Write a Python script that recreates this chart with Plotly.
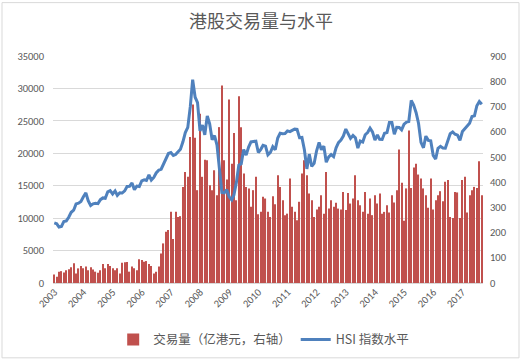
import plotly.graph_objects as go
import pandas as pd

months = pd.date_range("2003-01-01", periods=177, freq="MS")

# HSI index level (left axis)
hsi = [
    9258, 9123, 8634, 8717, 9487, 9577, 10134, 10908, 11230, 12190, 12317, 12576,
    13289, 13908, 12682, 11943, 12198, 12286, 12239, 12850, 13120, 13055, 14060, 14230,
    13721, 14196, 13517, 13909, 13868, 14201, 14880, 14904, 15429, 14386, 14937, 14876,
    15753, 15918, 15805, 16661, 15857, 16267, 16971, 17392, 17543, 18324, 18960, 19965,
    20107, 19651, 19801, 20319, 20635, 21773, 23185, 23984, 27143, 31352, 28643, 27813,
    23456, 24332, 22849, 25755, 24533, 22102, 22731, 21262, 18016, 13969, 13888, 14387,
    13278, 12811, 13576, 15521, 18171, 18379, 20573, 19724, 20955, 21753, 21822, 21873,
    20122, 20609, 21239, 21108, 19765, 20129, 21030, 20536, 22359, 23096, 23008, 23035,
    23447, 23338, 23528, 23721, 23684, 22398, 22441, 20535, 17592, 19864, 17989, 18434,
    20390, 21680, 20556, 21094, 18630, 19441, 19796, 19482, 20840, 21642, 22030, 22657,
    23730, 23020, 22300, 22737, 22392, 20803, 21883, 21731, 22860, 23206, 23882, 23306,
    22035, 22837, 22151, 22134, 23082, 23191, 24757, 24742, 22933, 23998, 23987, 23605,
    24507, 24823, 24901, 28133, 27424, 26250, 24636, 21670, 20846, 22640, 21996, 21914,
    19683, 19112, 20777, 21067, 20815, 20794, 21891, 23023, 23297, 22935, 22790, 22001,
    23361, 23741, 24112, 24615, 25661, 25765, 27324, 27970, 27554,
]

# Turnover (right axis)
volume = [
    34, 25, 45, 47, 42, 51, 55, 62, 78, 38, 58, 67,
    58, 65, 51, 62, 54, 45, 41, 51, 75, 58, 75, 67,
    58, 51, 58, 38, 80, 82, 83, 45, 65, 58, 51, 94,
    91, 84, 87, 75, 67, 38, 45, 65, 117, 157, 203, 210,
    282, 174, 282, 262, 265, 381, 440, 421, 579, 708, 576, 368,
    671, 421, 489, 487, 388, 368, 447, 348, 618, 783, 487, 410,
    728, 473, 595, 328, 740, 618, 434, 381, 375, 302, 368, 421,
    273, 282, 342, 335, 282, 262, 344, 312, 427, 381, 328, 269,
    275, 414, 302, 282, 249, 322, 434, 487, 427, 355, 328, 262,
    291, 302, 348, 275, 440, 295, 328, 302, 318, 295, 291, 361,
    289, 357, 315, 335, 427, 328, 308, 282, 361, 275, 335, 269,
    348, 315, 355, 275, 282, 308, 280, 348, 319, 368, 529, 397,
    247, 375, 605, 377, 458, 473, 430, 414, 375, 348, 298, 414,
    291, 328, 348, 364, 324, 401, 408, 262, 258, 361, 359, 258,
    408, 421, 280, 348, 368, 381, 377, 483, 348,
]

years = list(range(2003, 2018))
year_ticks = [f"{y}-01-01" for y in years]
year_labels = [str(y) for y in years]

FONT = "Calibri, Carlito, 'Noto Sans CJK SC', sans-serif"
GRAY = "#595959"

fig = go.Figure()
fig.add_trace(go.Bar(
    x=months, y=volume, name="交易量（亿港元，右轴）",
    marker=dict(color="#C0504D", line=dict(width=0)),
    yaxis="y",
))
fig.add_trace(go.Scatter(
    x=months, y=hsi, name="HSI 指数水平", mode="lines",
    line=dict(color="#4F81BD", width=3),
    yaxis="y2",
))

W, H = 522, 362
L, R, T, B = 53, 483, 55.5, 283
pw, ph = R - L, B - T

fig.update_layout(
    width=W, height=H,
    margin=dict(l=L, r=W - R, t=T, b=H - B, autoexpand=False),
    paper_bgcolor="white", plot_bgcolor="white",
    font=dict(family=FONT, color=GRAY, size=11),
    title=dict(text="港股交易量与水平", x=0.5, xanchor="center",
               y=1 - 22 / H, yanchor="middle",
               font=dict(family="'Noto Sans CJK SC', sans-serif", size=18, color=GRAY)),
    bargap=0.5,
    showlegend=True,
    legend=dict(orientation="h", x=0.49, xanchor="center",
                y=(B - 340) / ph, yanchor="middle",
                font=dict(family="'Noto Sans CJK SC', sans-serif", size=12.5, color=GRAY),
                itemwidth=30),
    xaxis=dict(
        type="date",
        range=["2002-12-16", "2017-09-16"],
        tickvals=year_ticks, ticktext=year_labels,
        tickangle=-45, showgrid=False, zeroline=False,
        showline=False, ticks="",
        tickfont=dict(size=10.5, color=GRAY),
        automargin=False,
    ),
    yaxis=dict(
        range=[0, 900], dtick=100, side="right",
        showgrid=False, zeroline=False, showline=False,
        tickfont=dict(size=10.5, color=GRAY),
        ticklabelstandoff=6, automargin=False,
    ),
    yaxis2=dict(
        range=[0, 35000], dtick=5000, side="left", overlaying="y",
        tickformat="d",
        showgrid=True, gridcolor="#D9D9D9", gridwidth=1,
        zeroline=True, zerolinecolor="#D9D9D9",
        showline=False,
        tickfont=dict(size=10.5, color=GRAY),
        ticklabelstandoff=8, automargin=False,
    ),
    shapes=[dict(
        type="rect", xref="paper", yref="paper",
        x0=(2 - L) / pw, x1=(519 - L) / pw,
        y0=(B - 358) / ph, y1=(B - 2) / ph,
        line=dict(color="#D9D9D9", width=1), fillcolor="rgba(0,0,0,0)",
        layer="below",
    )],
)

fig.write_html("out.html", config={"displayModeBar": False},
               post_script="document.body.style.margin='0';document.body.style.overflow='hidden';")
